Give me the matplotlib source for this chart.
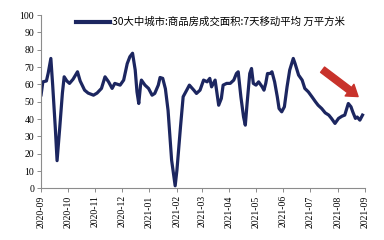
import numpy as np
import pandas as pd
import matplotlib
matplotlib.use("Agg")
from matplotlib import pyplot as plt
import matplotlib.dates as mdates

# Data
dates = pd.to_datetime([
    "2020-09-01", "2020-09-03", "2020-09-07", "2020-09-09", "2020-09-12", "2020-09-14",
    "2020-09-17", "2020-09-19", "2020-09-22", "2020-09-25", "2020-09-27", "2020-09-30",
    "2020-10-03", "2020-10-07", "2020-10-12", "2020-10-15", "2020-10-20", "2020-10-24",
    "2020-10-30", "2020-11-03", "2020-11-08", "2020-11-12", "2020-11-16", "2020-11-20",
    "2020-11-23", "2020-11-29", "2020-12-03", "2020-12-07", "2020-12-10", "2020-12-13",
    "2020-12-16", "2020-12-18", "2020-12-20", "2020-12-22", "2020-12-23", "2020-12-27",
    "2020-12-31", "2021-01-04", "2021-01-07", "2021-01-11", "2021-01-13", "2021-01-16",
    "2021-01-19", "2021-01-22", "2021-01-26", "2021-01-30", "2021-02-01", "2021-02-05",
    "2021-02-08", "2021-02-12", "2021-02-15", "2021-02-20", "2021-02-23", "2021-02-27",
    "2021-03-03", "2021-03-07", "2021-03-10", "2021-03-12", "2021-03-16", "2021-03-20",
    "2021-03-23", "2021-03-25", "2021-03-29", "2021-04-02", "2021-04-06", "2021-04-09",
    "2021-04-11", "2021-04-14", "2021-04-17", "2021-04-19", "2021-04-21", "2021-04-24",
    "2021-04-26", "2021-04-28", "2021-05-01", "2021-05-04", "2021-05-08", "2021-05-10",
    "2021-05-12", "2021-05-14", "2021-05-17", "2021-05-19", "2021-05-22", "2021-05-25",
    "2021-05-27", "2021-05-30", "2021-06-02", "2021-06-05", "2021-06-08", "2021-06-12",
    "2021-06-14", "2021-06-18", "2021-06-22", "2021-06-25", "2021-06-29", "2021-07-03",
    "2021-07-07", "2021-07-10", "2021-07-14", "2021-07-18", "2021-07-22", "2021-07-25",
    "2021-07-29", "2021-08-02", "2021-08-06", "2021-08-09", "2021-08-13", "2021-08-16",
    "2021-08-18", "2021-08-21", "2021-08-23", "2021-08-26", "2021-08-29",
])
area = [
    54, 61.5, 62, 66.5, 75, 60,
    35, 16, 35, 55, 64.4, 62,
    60.6, 63, 67.3, 62, 56.7, 55,
    53.8, 55, 57.7, 64.4, 61.5, 57.7,
    60.6, 59.6, 62.5, 72, 76, 78,
    68.3, 55.7, 49, 59.6, 62.5, 59.6,
    57.7, 53.8, 54.8, 59.6, 64, 63.5,
    57.5, 45, 16.3, 1.5, 10.6, 35.5,
    52.9, 56.7, 59.6, 56.7, 54.8, 56.7,
    62.5, 61.5, 63.5, 58.6, 62.5, 48,
    51.9, 59.6, 60.6, 60.6, 62.5, 66.3,
    67.3, 52.9, 41.3, 36.5, 49, 66.3,
    69.2, 60.6, 59.6, 61.5, 58.6, 56.7,
    60.6, 66.3, 66.3, 67.3, 61.5, 52.9,
    46.1, 44.2, 47.1, 58.6, 68.3, 75,
    72.1, 65.4, 62.5, 57.7, 55.7, 52.9,
    50, 48, 46.1, 43.6, 42.3, 40.4,
    37.5, 40.4, 41.7, 42.3, 49, 47.1,
    44.2, 40.4, 41.2, 39.4, 42.3,
]
label = "30大中城市:商品房成交面积:7天移动平均 万平方米"
arrow_tail = (pd.Timestamp("2021-07-15"), 68.5)
arrow_head = (pd.Timestamp("2021-08-24"), 53)

plt.rcParams['font.family'] = ['Liberation Serif', 'Noto Sans CJK SC', 'DejaVu Sans']

fig = plt.figure(figsize=(3.84, 2.4), dpi=100)
ax = fig.add_axes([0.107, 0.215, 0.844, 0.722])

ax.plot(dates, area, color='#1c2660', linewidth=2.3, label=label)

ax.set_ylim(0, 100)
ax.set_yticks(np.arange(0, 101, 10))
ax.set_xlim(pd.Timestamp("2020-09-01"), pd.Timestamp("2021-09-01"))
ax.xaxis.set_major_locator(mdates.MonthLocator())
ax.xaxis.set_major_formatter(mdates.DateFormatter('%Y-%m'))
plt.setp(ax.get_xticklabels(), rotation=90)

for s in ['top', 'right']:
    ax.spines[s].set_visible(False)
for s in ['left', 'bottom']:
    ax.spines[s].set_color('#8c8c8c')
    ax.spines[s].set_linewidth(0.8)
ax.tick_params(axis='both', labelsize=7, length=3, width=0.7, color='#8c8c8c', pad=2)

# red arrow for the recent decline
ax.annotate('', xy=arrow_head, xytext=arrow_tail,
            arrowprops=dict(arrowstyle='simple,head_length=0.55,head_width=0.75,tail_width=0.34',
                            color='#c8322b', mutation_scale=14, shrinkA=0, shrinkB=0))

leg = fig.legend(loc='center', bbox_to_anchor=(0.548, 0.908), frameon=False,
                 handlelength=3.2, handletextpad=0.2,
                 prop={'family': ['Noto Sans CJK SC', 'DejaVu Sans'], 'size': 7.5})
leg.get_lines()[0].set_linewidth(3)

fig.savefig("out.png", dpi=100)
